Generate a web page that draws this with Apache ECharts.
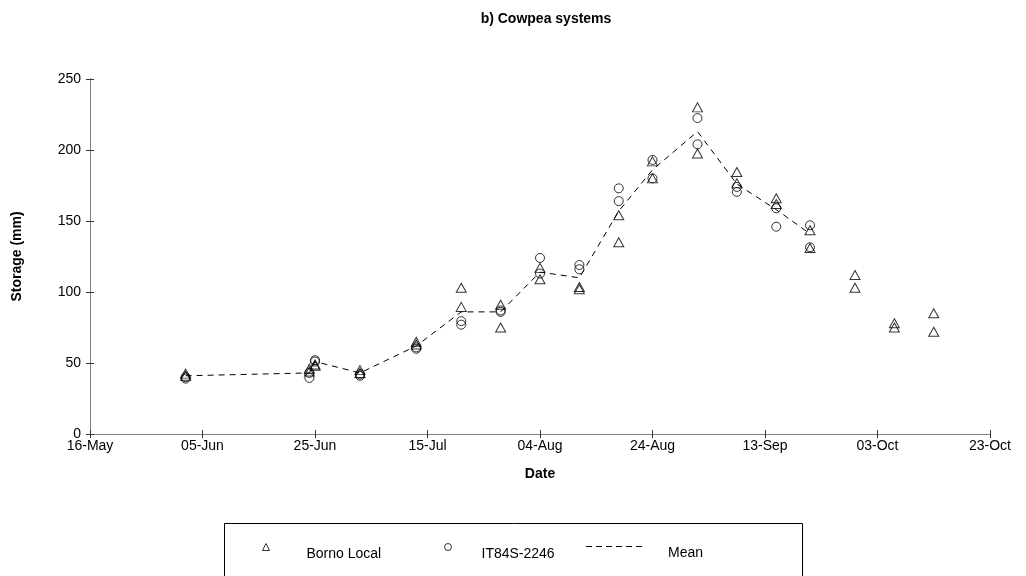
<!DOCTYPE html>
<html>
<head>
<meta charset="utf-8">
<script src="https://cdn.jsdelivr.net/npm/echarts@6/dist/echarts.min.js"></script>
<style>
  html, body { margin:0; padding:0; background:#fff; }
  #chart { width:1026px; height:576px; }
</style>
</head>
<body>
<div id="chart"></div>
<script>
/* sampling dates (season of one year) */
const DATES = [
  '2001-06-02','2001-06-24','2001-06-25','2001-07-03','2001-07-13','2001-07-21',
  '2001-07-28','2001-08-04','2001-08-11','2001-08-18','2001-08-24','2001-09-01',
  '2001-09-08','2001-09-15','2001-09-21','2001-09-29','2001-10-06','2001-10-13'
]
/* Borno Local, two replicates */
const BORNO_1 = [42.5, 46, 49, 45, 65, 103, 91, 117, 103.5, 154, 192, 230, 184.5, 166, 143.5, 112, 78, 85]
const BORNO_2 = [41, 44, 48, 43, 63, 89.5, 75, 109, 102, 135, 180, 197.5, 176.5, 162, 131, 103, 75, 72]
/* IT84S-2246, two replicates (none after 21-Sep) */
const IT_1 = [40, 43, 52, 42, 61, 79.5, 87, 124, 119, 173, 193, 222.5, 174, 159, 147, null, null, null]
const IT_2 = [39, 39.5, 51, 41, 60, 77, 86, 113, 116, 164, 180, 204, 170.5, 146, 131.5, null, null, null]
/* mean line */
const MEAN = [41, 43, 51, 43, 62, 86, 86, 114, 110, 157, 186, 213, 176, 158, 141, null, null, null]

const START = Date.UTC(2001, 4, 16)     // 16-May
const MONTHS = ['Jan','Feb','Mar','Apr','May','Jun','Jul','Aug','Sep','Oct','Nov','Dec']
const dayOf = s => (Date.parse(s) - START) / 864e5
const fmtDay = d => {
  const t = new Date(START + d * 864e5)
  return String(t.getUTCDate()).padStart(2, '0') + '-' + MONTHS[t.getUTCMonth()]
}
const pairs = arr => DATES.map((d, i) => [dayOf(d), arr[i]]).filter(p => p[1] != null)

const FONT = 'Liberation Sans, Arial, sans-serif'
const AX = '#808080'
const TICK = '#333'

const chart = echarts.init(document.getElementById('chart'))

// one legend per entry so each can sit where the reference puts it
function legendAt(name, left, top, itemWidth, gapLeft, icon) {
  const item = icon ? { name, icon } : { name }
  return {
    data: [item], left, top, padding: 0,
    itemWidth, itemHeight: 7, selectedMode: false,
    itemStyle: { borderWidth: 1 },
    formatter: '{t|{name}}',
    textStyle: {
      fontFamily: FONT, fontSize: 14, color: '#000',
      rich: { t: { fontFamily: FONT, fontSize: 14, color: '#000', padding: [14, 0, 0, gapLeft] } }
    }
  }
}

chart.setOption({
  animation: false,
  backgroundColor: '#fff',
  title: {
    text: 'b) Cowpea systems',
    left: 541, top: 7, textAlign: 'center',
    textStyle: { fontFamily: FONT, fontSize: 14, fontWeight: 'bold', color: '#000' }
  },
  grid: { left: 90, top: 79, width: 900, height: 355, containLabel: false },
  xAxis: [
    {
      type: 'value', min: 0, max: 160, interval: 20,
      name: 'Date', nameLocation: 'middle', nameGap: 33,
      nameTextStyle: { fontFamily: FONT, fontSize: 14, fontWeight: 'bold', color: '#000' },
      axisLine: { lineStyle: { color: AX, width: 1 } },
      axisTick: { show: true, length: 4, lineStyle: { color: TICK } },
      axisLabel: {
        formatter: v => fmtDay(v), margin: 5, showMaxLabel: true, showMinLabel: true,
        fontFamily: FONT, fontSize: 14, color: '#000'
      },
      splitLine: { show: false }
    },
    { // inward half of the cross ticks
      type: 'value', min: 0, max: 160, interval: 20, position: 'bottom',
      axisLine: { show: true, lineStyle: { color: AX, width: 1 } },
      axisTick: { show: true, inside: true, length: 4, lineStyle: { color: TICK } },
      axisLabel: { show: false }, splitLine: { show: false }
    }
  ],
  yAxis: [
    {
      type: 'value', min: 0, max: 250, interval: 50,
      name: 'Storage (mm)', nameLocation: 'middle', nameGap: 66,
      nameTextStyle: { fontFamily: FONT, fontSize: 14, fontWeight: 'bold', color: '#000' },
      axisLine: { show: true, lineStyle: { color: AX, width: 1 } },
      axisTick: { show: true, length: 4, lineStyle: { color: TICK } },
      axisLabel: { margin: 9, fontFamily: FONT, fontSize: 14, color: '#000' },
      splitLine: { show: false }
    },
    {
      type: 'value', min: 0, max: 250, interval: 50, position: 'left',
      axisLine: { show: true, lineStyle: { color: AX, width: 1 } },
      axisTick: { show: true, inside: true, length: 4, lineStyle: { color: TICK } },
      axisLabel: { show: false }, splitLine: { show: false }
    }
  ],
  legend: [
    legendAt('Borno Local', 262, 543, 7, 32),
    legendAt('IT84S-2246', 444, 543, 7, 25),
    legendAt('Mean', 586, 546, 56, 21,
      'path://M0,0h6v1h-6zM10,0h6v1h-6zM20,0h6v1h-6zM30,0h6v1h-6zM40,0h6v1h-6zM50,0h6v1h-6z')
  ],
  graphic: [{
    type: 'rect', left: 222, top: 521,
    shape: { width: 578, height: 70 },
    style: { fill: 'none', stroke: '#000', lineWidth: 1 },
    silent: true
  }],
  series: [
    {
      name: 'Mean', type: 'line',
      data: pairs(MEAN),
      showSymbol: false, symbol: 'none',
      lineStyle: { color: '#000', width: 1, type: [6, 5] },
      itemStyle: { color: '#000' },
      z: 1
    },
    {
      name: 'Borno Local', type: 'scatter',
      data: pairs(BORNO_1).concat(pairs(BORNO_2)),
      symbol: 'triangle', symbolSize: [10, 9],
      itemStyle: { color: 'rgba(255,255,255,0)', borderColor: '#000', borderWidth: 1 },
      z: 3
    },
    {
      name: 'IT84S-2246', type: 'scatter',
      data: pairs(IT_1).concat(pairs(IT_2)),
      symbol: 'circle', symbolSize: 9,
      itemStyle: { color: 'rgba(255,255,255,0)', borderColor: '#000', borderWidth: 1 },
      z: 3
    }
  ]
})
</script>
</body>
</html>
